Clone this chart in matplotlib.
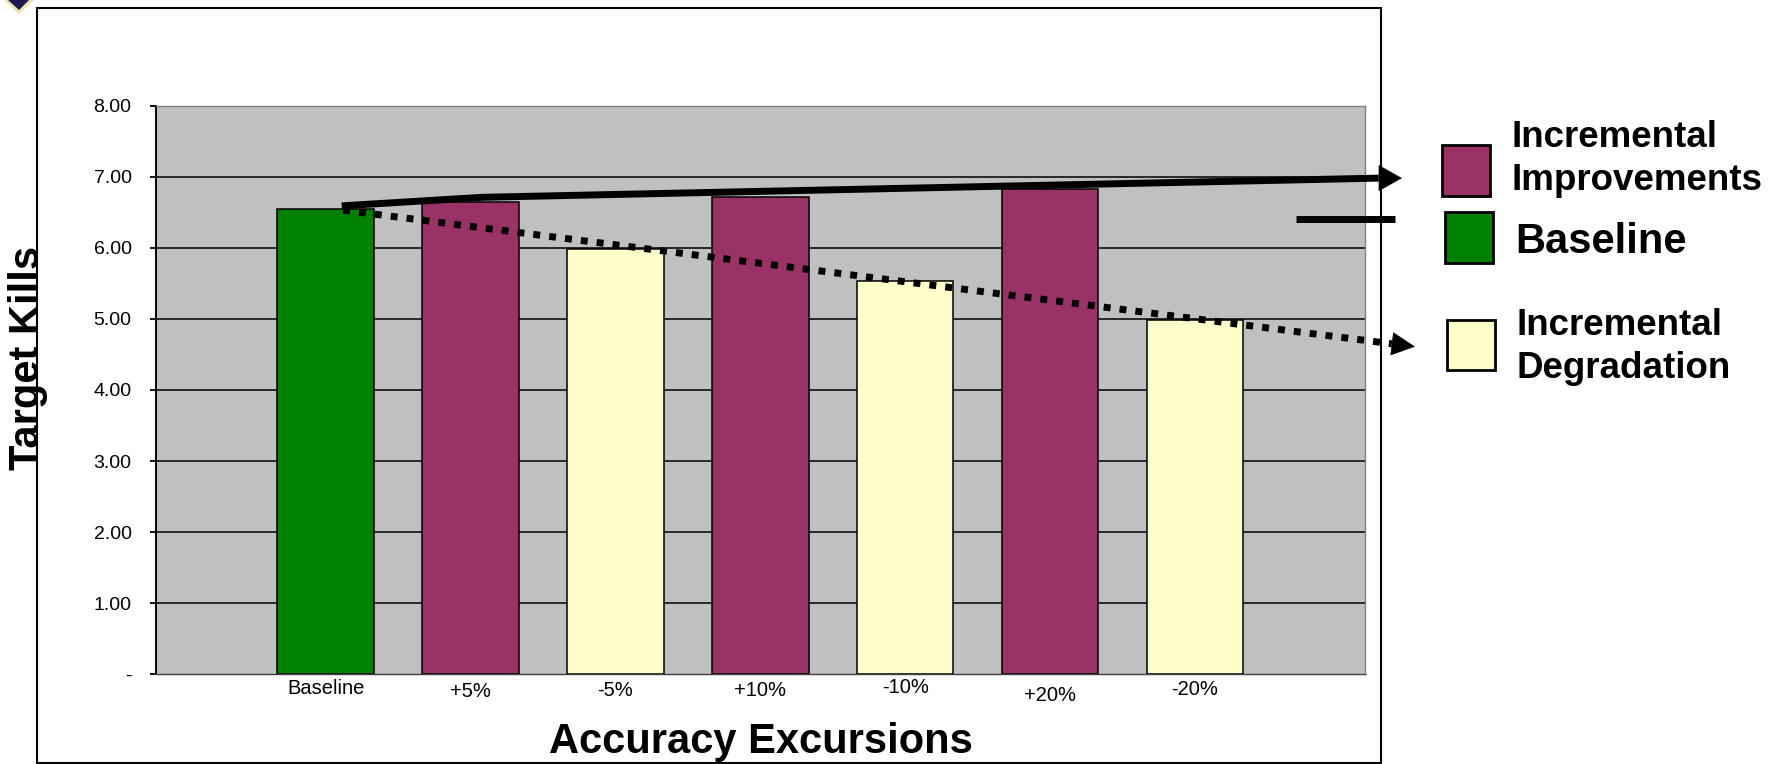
import matplotlib
matplotlib.use("Agg")
import matplotlib.pyplot as plt
import matplotlib.transforms as mtransforms
from matplotlib import font_manager as fm
from matplotlib.patches import Rectangle, Polygon

# ---- data -------------------------------------------------------------
categories = ["Baseline", "+5%", "-5%", "+10%", "-10%", "+20%", "-20%"]
target_kills = [6.54, 6.65, 5.99, 6.71, 5.53, 6.82, 4.99]
bar_groups = ["base", "up", "down", "up", "down", "up", "down"]
y_ticks = [0, 1, 2, 3, 4, 5, 6, 7, 8]
y_tick_labels = ["-", "1.00", "2.00", "3.00", "4.00", "5.00", "6.00", "7.00", "8.00"]
legend_groups = ["up", "base", "down"]
legend_labels = ["Incremental\nImprovements", "Baseline", "Incremental\nDegradation"]

# trend arrows drawn over the chart (category units, kills)
trend_up_x = [0.11, 1.08, 7.27]
trend_up_y = [6.59, 6.71, 6.98]
trend_up_tip = (7.43, 6.98)
trend_down_x = [0.12, 7.36]
trend_down_y = [6.53, 4.65]
trend_down_tip = (7.52, 4.61)
stray_bar_x = [6.70, 7.38]
stray_bar_y = [6.40, 6.40]

# ---- style ------------------------------------------------------------
group_colors = {"base": "#008000", "up": "#993366", "down": "#FFFFCC"}
PLOT_BG = "#C0C0C0"

W, H, DPI = 1781, 764, 100
fig = plt.figure(figsize=(W / DPI, H / DPI), dpi=DPI)
fig.patch.set_facecolor("white")


def fx(px):
    return px / W


def fy(py):
    return 1 - py / H


available = {f.name for f in fm.fontManager.ttflist}
if "Liberation Sans Narrow" in available:
    tick_family, ytick_size, xtick_size = "Liberation Sans Narrow", 17, 17.5
else:
    tick_family, ytick_size, xtick_size = "Liberation Sans", 14, 14.5
MAIN = "Liberation Sans"

# ---- axes ---------------------------------------------------------------
left, right, top, bottom = 155.6, 1365.0, 105.6, 674.4
ax = fig.add_axes([fx(left), fy(bottom), fx(right) - fx(left), fy(top) - fy(bottom)])
ax.set_facecolor(PLOT_BG)
ax.set_xlim(-1.175, 7.175)
ax.set_ylim(0, 8)

x = list(range(len(categories)))
ax.bar(x, target_kills, width=0.667,
       color=[group_colors[g] for g in bar_groups],
       edgecolor="black", linewidth=1.1, zorder=2)

ax.set_yticks(y_ticks)
ax.set_yticklabels(y_tick_labels, fontfamily=tick_family, fontsize=ytick_size)
ax.tick_params(axis="y", direction="out", length=4.3, width=1.3, pad=13, colors="black")
ax.yaxis.grid(True, color="black", linewidth=1.1)
ax.set_axisbelow(True)
for t, gl in zip(y_ticks, ax.yaxis.get_gridlines()):
    if t in (0, 8):
        gl.set_visible(False)

ax.set_xticks(x)
ax.set_xticklabels([])
ax.tick_params(axis="x", length=0)
# category labels sit at slightly uneven heights under the bars
label_drop_px = [0, 3.5, 2.5, 2, -1, 7, 1]
for xi, name, drop in zip(x, categories, label_drop_px):
    off = mtransforms.ScaledTranslation(0, -(14 + drop) / DPI, fig.dpi_scale_trans)
    ax.text(xi, 0, name, transform=ax.get_xaxis_transform() + off,
            ha="center", va="center", fontfamily=tick_family, fontsize=xtick_size)

ax.spines["left"].set_color("black")
ax.spines["left"].set_linewidth(1.4)
ax.spines["bottom"].set_color("#404040")
ax.spines["bottom"].set_linewidth(1.0)
for s in ("top", "right"):
    ax.spines[s].set_color("#808080")
    ax.spines[s].set_linewidth(1.0)

# ---- trend arrows -----------------------------------------------------
ax.plot(trend_up_x, trend_up_y, color="black", lw=5, solid_capstyle="butt",
        solid_joinstyle="miter", clip_on=False, zorder=5)
ax.annotate("", xy=trend_up_tip, xytext=(trend_up_x[-1], trend_up_y[-1]),
            arrowprops=dict(arrowstyle="-|>,head_length=16,head_width=9",
                            mutation_scale=1, lw=0.5, color="black",
                            shrinkA=0, shrinkB=0),
            annotation_clip=False, zorder=5)

ax.plot(trend_down_x, trend_down_y, color="black", lw=5,
        linestyle=(0, (1, 1.3)), dash_capstyle="butt",
        clip_on=False, zorder=5)
ax.annotate("", xy=trend_down_tip, xytext=(trend_down_x[-1], trend_down_y[-1]),
            arrowprops=dict(arrowstyle="-|>,head_length=16,head_width=8",
                            mutation_scale=1, lw=0.5, color="black",
                            shrinkA=0, shrinkB=0),
            annotation_clip=False, zorder=5)

ax.plot(stray_bar_x, stray_bar_y, color="black", lw=5, solid_capstyle="butt",
        clip_on=False, zorder=5)

# ---- axis titles ------------------------------------------------------
fig.text(fx(28), fy(358), "Target Kills", rotation=90, ha="center", va="center",
         fontfamily=MAIN, fontweight="bold", fontsize=30)
fig.text(fx(761), fy(753), "Accuracy Excursions", ha="center", va="baseline",
         fontfamily=MAIN, fontweight="bold", fontsize=30)

# ---- outer frame ------------------------------------------------------
fig.add_artist(Rectangle((fx(37), fy(762.5)), fx(1381) - fx(37), fy(7.5) - fy(762.5),
                         transform=fig.transFigure, fill=False,
                         edgecolor="black", linewidth=1.5, zorder=10))

# small emblem peeking in at the top-left corner
fig.add_artist(Polygon([(fx(4), fy(0)), (fx(34), fy(0)), (fx(19), fy(14))],
                       closed=True, transform=fig.transFigure,
                       facecolor="#EDE3B0", edgecolor="none", zorder=9))
fig.add_artist(Polygon([(fx(8), fy(0)), (fx(29), fy(0)), (fx(19), fy(10))],
                       closed=True, transform=fig.transFigure,
                       facecolor="#1E1850", edgecolor="none", zorder=9))

# ---- legend -----------------------------------------------------------
legend_boxes = [(1442, 145, 48, 51), (1445, 212, 48, 51), (1447, 320, 48, 50)]
legend_text_pos = [(1512, 147), (1515, 253), (1517, 335)]
legend_sizes = [26.5, 30, 26.5]
for g, label, (bx, by, bw, bh), (tx, ty), fs in zip(
        legend_groups, legend_labels, legend_boxes, legend_text_pos, legend_sizes):
    fig.add_artist(Rectangle((fx(bx), fy(by + bh)), bw / W, bh / H,
                             transform=fig.transFigure,
                             facecolor=group_colors[g], edgecolor="black",
                             linewidth=2))
    for i, line in enumerate(label.split("\n")):
        fig.text(fx(tx), fy(ty + i * 43.3), line, ha="left", va="baseline",
                 fontfamily=MAIN, fontweight="bold", fontsize=fs)

fig.savefig("out.png", dpi=DPI)
